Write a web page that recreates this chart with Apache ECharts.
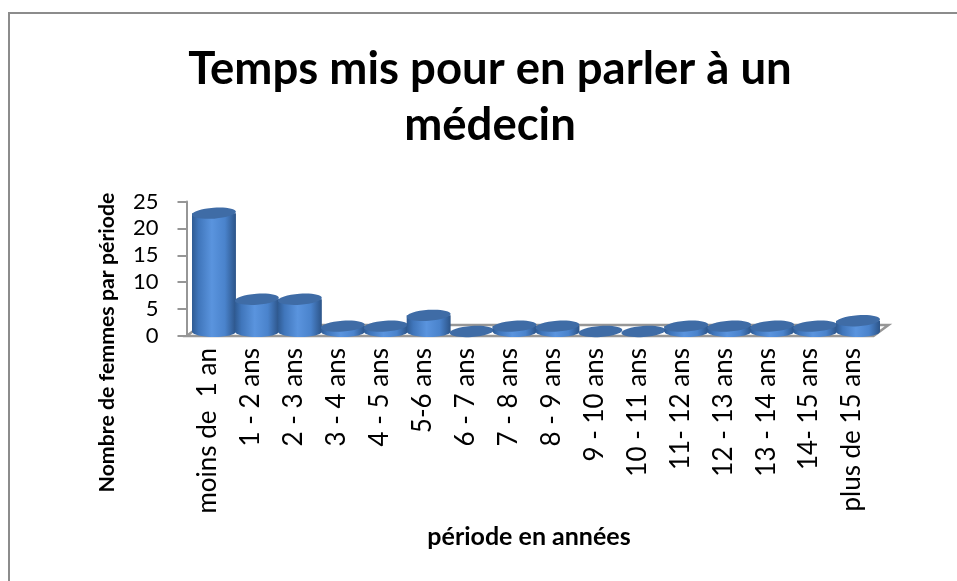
<!DOCTYPE html>
<html>
<head>
<meta charset="utf-8">
<style>
  html, body { margin: 0; padding: 0; background: #fff; }
  #chart { width: 957px; height: 581px; }
</style>
<script src="https://cdn.jsdelivr.net/npm/echarts@6/dist/echarts.min.js"></script>
</head>
<body>
<div id="chart"></div>
<script>
var categories = ['moins de  1 an', '1 - 2 ans', '2 - 3 ans', '3 - 4 ans', '4 - 5 ans', '5-6 ans',
  '6 - 7 ans', '7 - 8 ans', '8 - 9 ans', '9 - 10 ans', '10 - 11 ans', '11- 12 ans',
  '12 - 13 ans', '13 - 14 ans', '14- 15 ans', 'plus de 15 ans']
var femmes = [22, 6, 6, 1, 1, 3, 0, 1, 1, 0, 0, 1, 1, 1, 1, 2]
var yTicks = [0, 5, 10, 15, 20, 25]

var font = 'Lato'
var bodyColor = {
  type: 'linear', x: 0, y: 0, x2: 1, y2: 0,
  colorStops: [
    { offset: 0, color: '#2f5b93' },
    { offset: 0.15, color: '#4076bb' },
    { offset: 0.45, color: '#5a94de' },
    { offset: 0.75, color: '#4a83cc' },
    { offset: 1, color: '#2c5488' }
  ]
}

// cylinder : foot ellipse, body, then the tilted top
function renderCylinder(params, api) {
  var idx = api.value(0)
  var top = api.coord([idx, api.value(1)])
  var base = api.coord([idx, 0])
  var w = api.size([1, 0])[0] + 1
  var rx = w / 2
  var ry = 5.5
  var depth = 4.5
  var topY = top[1] - depth
  var baseY = base[1] - depth
  var children = []
  if (api.value(1) > 0) {
    children.push({ type: 'ellipse', x: top[0], y: baseY, shape: { cx: 0, cy: 0, rx: rx, ry: ry }, style: { fill: bodyColor } })
    children.push({ type: 'rect', shape: { x: top[0] - rx, y: topY, width: w, height: baseY - topY }, style: { fill: bodyColor } })
  }
  children.push({ type: 'ellipse', x: top[0], y: topY, rotation: 0.07, shape: { cx: 0, cy: 0, rx: rx, ry: ry }, style: { fill: '#3f6ca6' } })
  return { type: 'group', children: children }
}

// grey floor under the bars
function renderFloor(params, api) {
  var c = params.coordSys
  var y = c.y + c.height
  return {
    type: 'polygon',
    shape: { points: [[c.x - 6, y], [c.x + c.width - 6, y], [c.x + c.width + 9, y - 11], [c.x + 9, y - 11]] },
    style: { fill: '#fff', stroke: '#969696', lineWidth: 2.5 }
  }
}

var chart = echarts.init(document.getElementById('chart'))
chart.setOption({
  animation: false,
  title: {
    text: 'Temps mis pour en parler à un\nmédecin',
    left: 485,
    top: 36,
    textAlign: 'center',
    textStyle: { fontFamily: font, fontSize: 45.5, fontWeight: 'bold', color: '#000', lineHeight: 56 }
  },
  grid: { left: 192.5, right: 77.5, top: 201.5, height: 134.5 },
  xAxis: {
    type: 'category',
    data: categories,
    axisLine: { show: false },
    axisTick: { show: false },
    axisLabel: { rotate: 90, interval: 0, margin: 12, verticalAlign: 'bottom', lineHeight: 12, fontFamily: font, fontSize: 26, color: '#000' }
  },
  yAxis: {
    type: 'value',
    min: 0,
    max: 25,
    interval: 5,
    offset: 6,
    splitLine: { show: false },
    axisLine: { show: true, lineStyle: { color: '#969696', width: 2 } },
    axisTick: { show: true, length: 9, lineStyle: { color: '#969696', width: 2 } },
    axisLabel: { margin: 28, fontFamily: font, fontSize: 22, color: '#000',
      formatter: function (v) { return yTicks.indexOf(v) >= 0 ? String(v) : '' } }
  },
  series: [
    { type: 'custom', z: 1, silent: true, data: [0], renderItem: renderFloor },
    {
      type: 'custom',
      z: 2,
      encode: { x: 0, y: 1 },
      data: femmes.map(function (v, i) { return [i, v] }),
      renderItem: renderCylinder
    }
  ],
  graphic: [
    { type: 'polyline', silent: true, z: 0, shape: { points: [[9, 581], [9, 13], [957, 13]] }, style: { fill: 'none', stroke: '#8c8c8c', lineWidth: 2 } },
    { type: 'text', x: 107, y: 342.5, rotation: Math.PI / 2, style: { text: 'Nombre de femmes par période', fontFamily: font, fontSize: 21.3, fontWeight: 'bold', fill: '#000', align: 'center', verticalAlign: 'middle' } },
    { type: 'text', x: 529, y: 537, style: { text: 'période en années', fontFamily: font, fontSize: 25, fontWeight: 'bold', fill: '#000', align: 'center', verticalAlign: 'middle' } }
  ]
})
</script>
</body>
</html>
